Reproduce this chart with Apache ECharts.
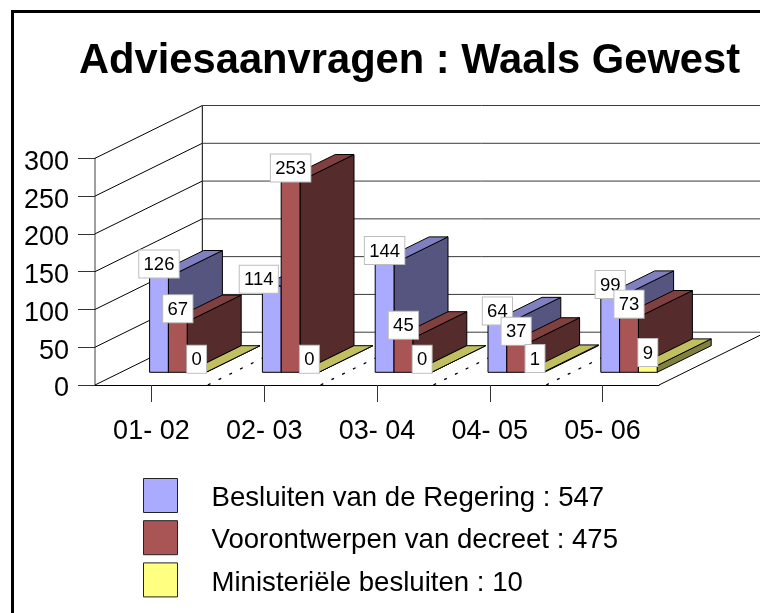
<!DOCTYPE html>
<html><head><meta charset="utf-8">
<style>html,body{margin:0;padding:0;background:#fff}#c{width:760px;height:613px}</style>
<script src="https://cdn.jsdelivr.net/npm/echarts@6/dist/echarts.min.js"></script>
</head><body><div id="c"></div>
<script>
const categories = ['01- 02','02- 03','03- 04','04- 05','05- 06'];
const besluiten = [126,114,144,64,99];
const voorontwerpen = [67,253,45,37,73];
const ministerieel = [0,0,0,1,9];
const legendNames = ['Besluiten van de Regering : 547','Voorontwerpen van decreet : 475','Ministeriële besluiten : 10'];
const yTicks = [0,50,100,150,200,250,300];
const FONT = '"Liberation Sans", Arial, sans-serif';

const DX = 107.3, DY = -52.8;      // wall depth
const SHIFT_X = 26.4, SHIFT_Y = -12.7, BAR_DX = 54, BAR_DY = -26.6; // bar placement in depth
const BAR_W = 18.8;
const LABEL_NUDGE = {'0:1':[-13,6]}; // label moved aside in the original (series:category)

const faces = [
  {front:'#AAAAFF', top:'#8080C0', side:'#555580'},
  {front:'#AA5555', top:'#804040', side:'#552B2B'},
  {front:'#FFFF80', top:'#C0C060', side:'#808040'}
];

function barItem(seriesIdx){
  return function(params, api){
    const cat = api.value(0), v = api.value(1);
    const base = api.coord([cat,0]), topP = api.coord([cat,v]);
    const x0 = base[0] + SHIFT_X - 1.5*BAR_W + seriesIdx*BAR_W, x1 = x0 + BAR_W;
    const yb = base[1] + SHIFT_Y, yt = topP[1] + SHIFT_Y;
    const c = faces[seriesIdx], z = seriesIdx + 1;
    const nudge = LABEL_NUDGE[seriesIdx+':'+cat] || [0,0];
    const st = (fill)=>({fill:fill, stroke:'#000', lineWidth:1, lineJoin:'round'});
    return {type:'group', children:[
      {type:'polygon', z2:z, shape:{points:[[x1,yb],[x1+BAR_DX,yb+BAR_DY],[x1+BAR_DX,yt+BAR_DY],[x1,yt]]}, style:st(c.side)},
      {type:'polygon', z2:z, shape:{points:[[x0,yt],[x1,yt],[x1+BAR_DX,yt+BAR_DY],[x0+BAR_DX,yt+BAR_DY]]}, style:st(c.top)},
      {type:'polygon', z2:z, shape:{points:[[x0,yb],[x1,yb],[x1,yt],[x0,yt]]}, style:st(c.front)},
      {type:'text', z2:10+z, x:(x0+x1)/2+nudge[0], y:yt+0.5+nudge[1], style:{
        text:String(v), font:'18.5px '+FONT, fill:'#000', align:'center', verticalAlign:'bottom',
        backgroundColor:'#fff', borderColor:'#BDBDBD', borderWidth:1, padding:[5,4.3,3,4.3], lineHeight:19
      }}
    ]};
  };
}

function wallItem(params, api){
  const v = api.value(0), cs = params.coordSys;
  const y = api.coord([0,v])[1], x = cs.x;
  const line = {stroke:'#000', lineWidth:1};
  const grey = {stroke:'#3a3a3a', lineWidth:1};
  const ch = [
    {type:'line', shape:{x1:x,y1:y,x2:x+DX,y2:y+DY}, style:line},
    {type:'line', shape:{x1:x+DX,y1:y+DY,x2:x+cs.width+DX,y2:y+DY}, style:grey}
  ];
  if(v===0){
    ch.push({type:'line', shape:{x1:x+cs.width,y1:y,x2:x+cs.width+DX,y2:y+DY}, style:line});
    ch.push({type:'line', shape:{x1:x+DX,y1:y+DY,x2:x+DX,y2:cs.y+DY}, style:line});
    const band = api.size([1,0])[0];
    for(let i=1;i<categories.length;i++){
      ch.push({type:'line', shape:{x1:x+i*band,y1:y,x2:x+i*band+DX,y2:y+DY}, style:{stroke:'#000',lineWidth:1.3,lineDash:[3,9]}});
    }
  }
  return {type:'group', children:ch};
}

const pairs = arr => arr.map((v,i)=>[i,v]);
const chart = echarts.init(document.getElementById('c'), null, {renderer:'canvas'});
chart.setOption({
  animation:false,
  backgroundColor:'#fff',
  textStyle:{fontFamily:FONT},
  title:{text:'Adviesaanvragen : Waals Gewest', left:79, top:41, padding:0,
    textStyle:{fontFamily:FONT, fontSize:41.7, fontWeight:'bold', color:'#000'}},
  graphic:[{type:'rect', z:-1, shape:{x:12.5,y:11.5,width:800,height:700}, style:{fill:'none',stroke:'#000',lineWidth:3}}],
  grid:{left:95, top:158.3, width:564, height:226.7, containLabel:false},
  xAxis:{type:'category', data:categories, boundaryGap:true,
    axisLine:{show:true, lineStyle:{color:'#000',width:1}},
    axisTick:{show:true, alignWithLabel:true, length:17, lineStyle:{color:'#333',width:1}},
    axisLabel:{fontSize:27, color:'#000', margin:33, fontFamily:FONT, interval:0},
    splitLine:{show:false}},
  yAxis:{type:'value', min:0, max:300, interval:50,
    axisLine:{show:true, lineStyle:{color:'#808080',width:1.5}},
    axisTick:{show:true, length:17, lineStyle:{color:'#333',width:1}},
    axisLabel:{fontSize:27, color:'#000', margin:26, fontFamily:FONT, verticalAlign:'top', lineHeight:8},
    splitLine:{show:false}},
  legend:{orient:'vertical', left:143, top:478, itemWidth:34, itemHeight:34, itemGap:7.2, padding:0,
    icon:'rect',
    formatter:name=>'{a|'+name+'}',
    textStyle:{rich:{a:{fontSize:27.6, color:'#000', fontFamily:FONT, padding:[6,0,0,29]}}},
    data:legendNames.map((n,i)=>({name:n, itemStyle:{color:faces[i].front, borderColor:'#222', borderWidth:1}})),
    selectedMode:false},
  tooltip:{show:false},
  series:[
    {type:'custom', name:'walls', coordinateSystem:'cartesian2d', z:1, silent:true, renderItem:wallItem, data:yTicks.map(v=>[v]), encode:{y:0}},
    {type:'custom', name:legendNames[0], coordinateSystem:'cartesian2d', z:2, silent:true, renderItem:barItem(0), data:pairs(besluiten), encode:{x:0,y:1}, itemStyle:{color:faces[0].front}},
    {type:'custom', name:legendNames[1], coordinateSystem:'cartesian2d', z:2, silent:true, renderItem:barItem(1), data:pairs(voorontwerpen), encode:{x:0,y:1}, itemStyle:{color:faces[1].front}},
    {type:'custom', name:legendNames[2], coordinateSystem:'cartesian2d', z:2, silent:true, renderItem:barItem(2), data:pairs(ministerieel), encode:{x:0,y:1}, itemStyle:{color:faces[2].front}}
  ]
});
</script></body></html>
